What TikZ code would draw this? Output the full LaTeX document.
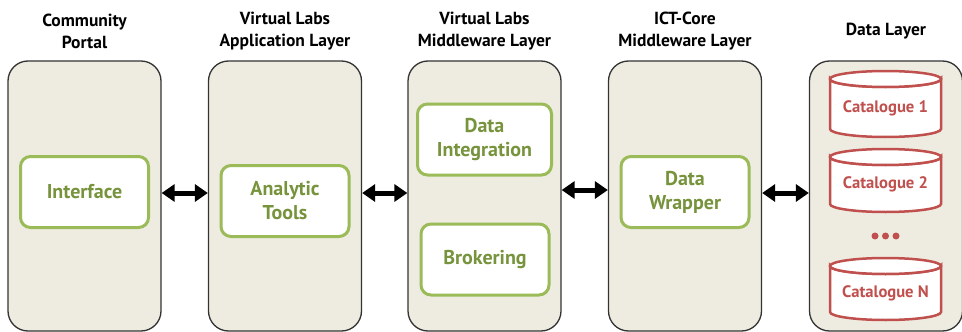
\documentclass[tikz,border=0pt]{standalone}
\usepackage{fontspec}
\setmainfont{PT Sans}
\usetikzlibrary{arrows.meta}
\definecolor{boxfill}{HTML}{EEECE1}
\definecolor{gborder}{HTML}{9BBB59}
\definecolor{gtext}{HTML}{77933C}
\definecolor{rcol}{HTML}{C0504D}
\begin{document}
\begin{tikzpicture}[x=1pt,y=-1pt,
  layer/.style={draw=black!80,line width=1.3pt,fill=boxfill,rounded corners=20pt,minimum width=153pt,minimum height=270pt,inner sep=0pt},
  inner/.style={draw=gborder,line width=3pt,fill=white,rounded corners=10pt,minimum width=128pt,minimum height=71pt,text=gtext,font=\fontsize{20}{24}\selectfont\bfseries,align=center,inner sep=0pt},
  head/.style={font=\fontsize{17.5}{22}\selectfont\bfseries,align=center,text=black},
  cat/.style={text=rcol,font=\fontsize{16.6}{20}\selectfont\bfseries},
  dbl/.style={line width=5pt,{Triangle[length=13pt,width=17pt]}-{Triangle[length=13pt,width=17pt]}},
  cyl/.style={draw=rcol,line width=2.5pt,fill=white}]
\useasboundingbox (0,0) rectangle (962,332);
% headers
\node[head] (h1) at (84.5,31) {Community\\Portal};
\node[head] (h2) at (285,31) {Virtual Labs\\Application Layer};
\node[head] (h3) at (484.5,31) {Virtual Labs\\Middleware Layer};
\node[head] (h4) at (685,31) {ICT-Core\\Middleware Layer};
\node[head] (h5) at (886,31) {Data Layer};
% layers
\node[layer] (c1) at (84.5,196) {};
\node[layer] (c2) at (285,196) {};
\node[layer] (c3) at (484.5,196) {};
\node[layer] (c4) at (685,196) {};
\node[layer] (c5) at (886,196) {};
% inner boxes
\node[inner] (i1) at (84.5,192) {Interface};
\node[inner] (i2) at (285,201) {Analytic\\Tools};
\node[inner,minimum width=134pt] (i3) at (484.5,139.5) {Data\\Integration};
\node[inner] (i4) at (485,259.5) {Brokering};
\node[inner] (i5) at (685,192) {Data\\Wrapper};
% cylinders
\foreach \t/\b/\n in {79/129/1,157/204/2,266/312/N}{
  \draw[cyl] (830,\t) -- (830,\b) arc[start angle=180,end angle=360,x radius=55.5pt,y radius=8pt] -- (941,\t) arc[start angle=0,end angle=-180,x radius=55.5pt,y radius=8pt] -- cycle;
  \draw[cyl] (885.5,\t) ellipse[x radius=55.5pt,y radius=8pt];
}
\node[cat] (k1) at (885.5,108) {Catalogue 1};
\node[cat] (k2) at (885.5,184) {Catalogue 2};
\node[cat] (kn) at (885.5,293) {Catalogue N};
\foreach \x in {875,885.5,896}{\fill[rcol] (\x,236) circle[radius=3.5pt];}
% arrows
\draw[dbl] ([yshift=3pt]c1.east) -- ([yshift=3pt]c2.west);
\draw[dbl] ([yshift=3pt]c2.east) -- ([yshift=3pt]c3.west);
\draw[dbl] ([yshift=6pt]c3.east) -- ([yshift=6pt]c4.west);
\draw[dbl] ([yshift=3pt]c4.east) -- ([yshift=3pt]c5.west);
\end{tikzpicture}
\end{document}
